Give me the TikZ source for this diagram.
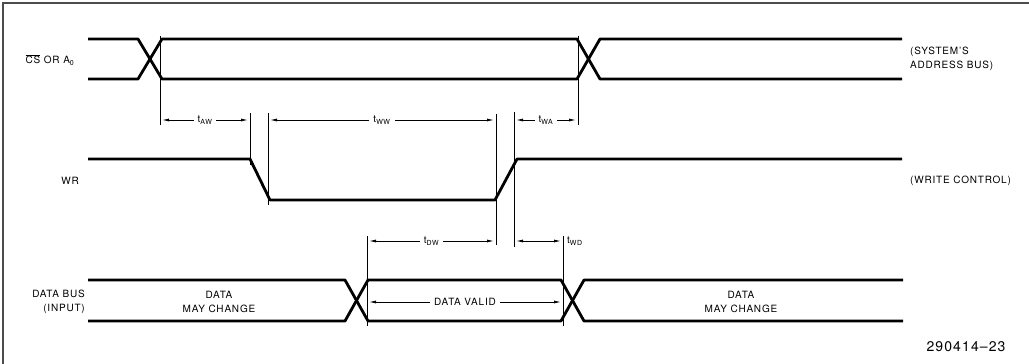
\documentclass[tikz,border=0pt]{standalone}
\usepackage{fontspec}
\setmainfont{TeX Gyre Heros}[LetterSpace=8]
\usetikzlibrary{arrows.meta,positioning}

\newcommand{\tsub}[1]{t\textsubscript{#1}}

\begin{document}
\begin{tikzpicture}[x=1pt,y=-1pt,
  >={Latex[length=7pt,width=3pt]},
  frame/.style={line width=1.2pt, draw=black!70},
  sig/.style={line width=2.8pt, line join=round},
  ext/.style={line width=0.8pt},
  dim/.style={<->, line width=0.8pt},
  lbl/.style={font=\fontsize{10}{13.5}\selectfont, inner sep=1pt},
  dimlbl/.style={lbl, fill=white, inner sep=4pt}]
  \useasboundingbox (0,0) rectangle (1029,364);
  \draw[frame] (3,364) -- (3,3) -- (1029,3);

  % signal names
  \node[lbl] (cs) at (50,60) {$\overline{\hbox{CS}}$ OR A\textsubscript{0}};
  \node[lbl] (wr) at (70,181) {WR};
  \node[lbl, align=right, anchor=east] (dbus) at (86,302) {DATA BUS\\(INPUT)};
  \node[lbl, align=left, anchor=west] (sysbus) at (909,59) {(SYSTEM'S\\ADDRESS BUS)};
  \node[lbl, anchor=west] (wrctl) at (909,181) {(WRITE CONTROL)};

  % waveforms
  \draw[sig] (88,39) -- (138,39) -- (162,79) -- (577,79) -- (600,39) -- (902,39);
  \draw[sig] (88,79) -- (138,79) -- (162,39) -- (577,39) -- (600,79) -- (902,79);
  \draw[sig] (88,159) -- (250,159) -- (270,200) -- (495,200) -- (517,159) -- (902,159);
  \draw[sig] (88,280) -- (345,280) -- (368,321) -- (561,321) -- (584,280) -- (903,280);
  \draw[sig] (88,321) -- (345,321) -- (368,280) -- (561,280) -- (584,321) -- (903,321);

  \node[lbl, align=center] (chg1) at (219,302) {DATA\\MAY CHANGE};
  \node[lbl, align=center] (chg2) at (741,302) {DATA\\MAY CHANGE};

  % reference lines
  \foreach \x/\a/\b in {160/36/125, 578/36/125, 250/113/165, 268/113/205,
                        496/114/245, 514/112/247, 367/236/326, 563/236/326}
    \draw[ext] (\x,\a) -- (\x,\b);

  % timings
  \coordinate (aw1) at (162,120);
  \coordinate (aw2) at (248,120);
  \coordinate (ww1) at (270,120);
  \coordinate (ww2) at (494,120);
  \coordinate (wa1) at (516,120);
  \coordinate (wa2) at (576,120);
  \coordinate (dw1) at (369,241);
  \coordinate (dw2) at (494,241);
  \coordinate (wd1) at (516,241);
  \coordinate (wd2) at (561,241);
  \coordinate (dv1) at (369,302);
  \coordinate (dv2) at (561,302);
  \draw[dim] (aw1) -- node[dimlbl] (taw) {\tsub{AW}} (aw2);
  \draw[dim] (ww1) -- node[dimlbl] (tww) {\tsub{WW}} (ww2);
  \draw[dim] (wa1) -- node[dimlbl] (twa) {\tsub{WA}} (wa2);
  \draw[dim] (dw1) -- node[dimlbl] (tdw) {\tsub{DW}} (dw2);
  \draw[dim] (wd1) -- (wd2);
  \node[lbl, right=5pt of wd2] (twd) {\tsub{WD}};
  \draw[dim] (dv1) -- node[dimlbl] (dval) {DATA VALID} (dv2);

  \node[font=\fontsize{14}{16}\selectfont] (fig) at (966,347) {290414--23};
\end{tikzpicture}
\end{document}
